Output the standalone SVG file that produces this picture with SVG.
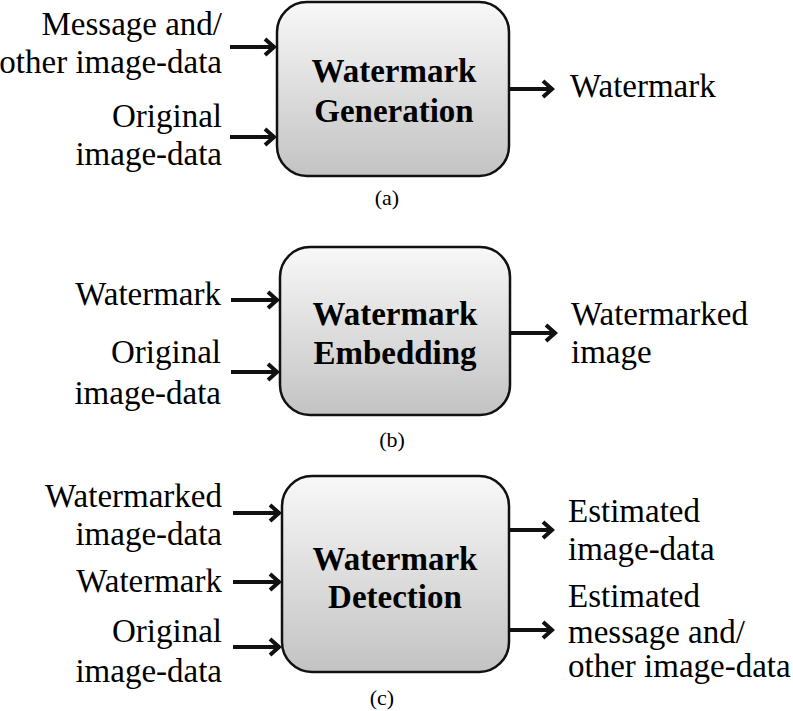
<svg xmlns="http://www.w3.org/2000/svg" width="793" height="711" viewBox="0 0 793 711">
<defs>
<linearGradient id="g" x1="0" y1="0" x2="0" y2="1">
<stop offset="0" stop-color="#f8f8f8"/>
<stop offset="1" stop-color="#c3c3c3"/>
</linearGradient>
<marker id="ah" markerUnits="userSpaceOnUse" viewBox="-14 -12 18 24" markerWidth="18" markerHeight="24" refX="0" refY="0" orient="auto">
<path d="M-10,-8 L-1,0 L-10,8" fill="none" stroke="#111" stroke-width="4"/>
</marker>
</defs>
<style>
.wmbox{fill:url(#g);stroke:#111;stroke-width:2.5}
.wmarr{stroke:#111;stroke-width:4;fill:none;marker-end:url(#ah)}
</style>
<rect width="793" height="711" fill="#fff"/>

<g id="gen">
<rect class="wmbox" x="277" y="2" width="232" height="174" rx="30"/>
<text x="394" y="82" font-family="Liberation Serif" font-size="33" font-weight="bold" text-anchor="middle">Watermark</text>
<text x="394" y="122" font-family="Liberation Serif" font-size="33" font-weight="bold" text-anchor="middle">Generation</text>
</g>
<g id="gen-labels">
<text x="222" y="35" font-family="Liberation Serif" font-size="33" text-anchor="end">Message and/</text>
<text x="222" y="73" font-family="Liberation Serif" font-size="33" text-anchor="end">other image-data</text>
<text x="222" y="127" font-family="Liberation Serif" font-size="33" text-anchor="end">Original</text>
<text x="222" y="165" font-family="Liberation Serif" font-size="33" text-anchor="end">image-data</text>
<text x="570" y="97" font-family="Liberation Serif" font-size="33">Watermark</text>
<text x="387" y="205" font-family="Liberation Serif" font-size="22" text-anchor="middle">(a)</text>
</g>

<g id="emb">
<rect class="wmbox" x="280" y="247" width="230" height="168" rx="30"/>
<text x="395" y="325" font-family="Liberation Serif" font-size="33" font-weight="bold" text-anchor="middle">Watermark</text>
<text x="395" y="364" font-family="Liberation Serif" font-size="33" font-weight="bold" text-anchor="middle">Embedding</text>
</g>
<g id="emb-labels">
<text x="221" y="305" font-family="Liberation Serif" font-size="33" text-anchor="end">Watermark</text>
<text x="221" y="363" font-family="Liberation Serif" font-size="33" text-anchor="end">Original</text>
<text x="221" y="404" font-family="Liberation Serif" font-size="33" text-anchor="end">image-data</text>
<text x="571" y="325" font-family="Liberation Serif" font-size="33">Watermarked</text>
<text x="571" y="363" font-family="Liberation Serif" font-size="33">image</text>
<text x="392" y="447" font-family="Liberation Serif" font-size="22" text-anchor="middle">(b)</text>
</g>

<g id="det">
<rect class="wmbox" x="282" y="476" width="227" height="196" rx="30"/>
<text x="395" y="570" font-family="Liberation Serif" font-size="33" font-weight="bold" text-anchor="middle">Watermark</text>
<text x="395" y="608" font-family="Liberation Serif" font-size="33" font-weight="bold" text-anchor="middle">Detection</text>
</g>
<g id="det-labels">
<text x="222" y="507" font-family="Liberation Serif" font-size="33" text-anchor="end">Watermarked</text>
<text x="222" y="545" font-family="Liberation Serif" font-size="33" text-anchor="end">image-data</text>
<text x="222" y="592" font-family="Liberation Serif" font-size="33" text-anchor="end">Watermark</text>
<text x="222" y="642" font-family="Liberation Serif" font-size="33" text-anchor="end">Original</text>
<text x="222" y="682" font-family="Liberation Serif" font-size="33" text-anchor="end">image-data</text>
<text x="568" y="522" font-family="Liberation Serif" font-size="33">Estimated</text>
<text x="568" y="560" font-family="Liberation Serif" font-size="33">image-data</text>
<text x="568" y="607" font-family="Liberation Serif" font-size="33">Estimated</text>
<text x="568" y="643" font-family="Liberation Serif" font-size="33">message and/</text>
<text x="568" y="677" font-family="Liberation Serif" font-size="33">other image-data</text>
<text x="382" y="705" font-family="Liberation Serif" font-size="22" text-anchor="middle">(c)</text>
</g>

<g id="connectors">
<line class="wmarr" x1="230" y1="47" x2="275" y2="47"/>
<line class="wmarr" x1="230" y1="137" x2="275" y2="137"/>
<line class="wmarr" x1="509" y1="89" x2="553" y2="89"/>
<line class="wmarr" x1="231" y1="300" x2="278" y2="300"/>
<line class="wmarr" x1="231" y1="372" x2="278" y2="372"/>
<line class="wmarr" x1="510" y1="333" x2="556" y2="333"/>
<line class="wmarr" x1="233" y1="513" x2="280" y2="513"/>
<line class="wmarr" x1="233" y1="582" x2="280" y2="582"/>
<line class="wmarr" x1="233" y1="647" x2="280" y2="647"/>
<line class="wmarr" x1="509" y1="530" x2="553" y2="530"/>
<line class="wmarr" x1="509" y1="630" x2="553" y2="630"/>
</g>
</svg>
